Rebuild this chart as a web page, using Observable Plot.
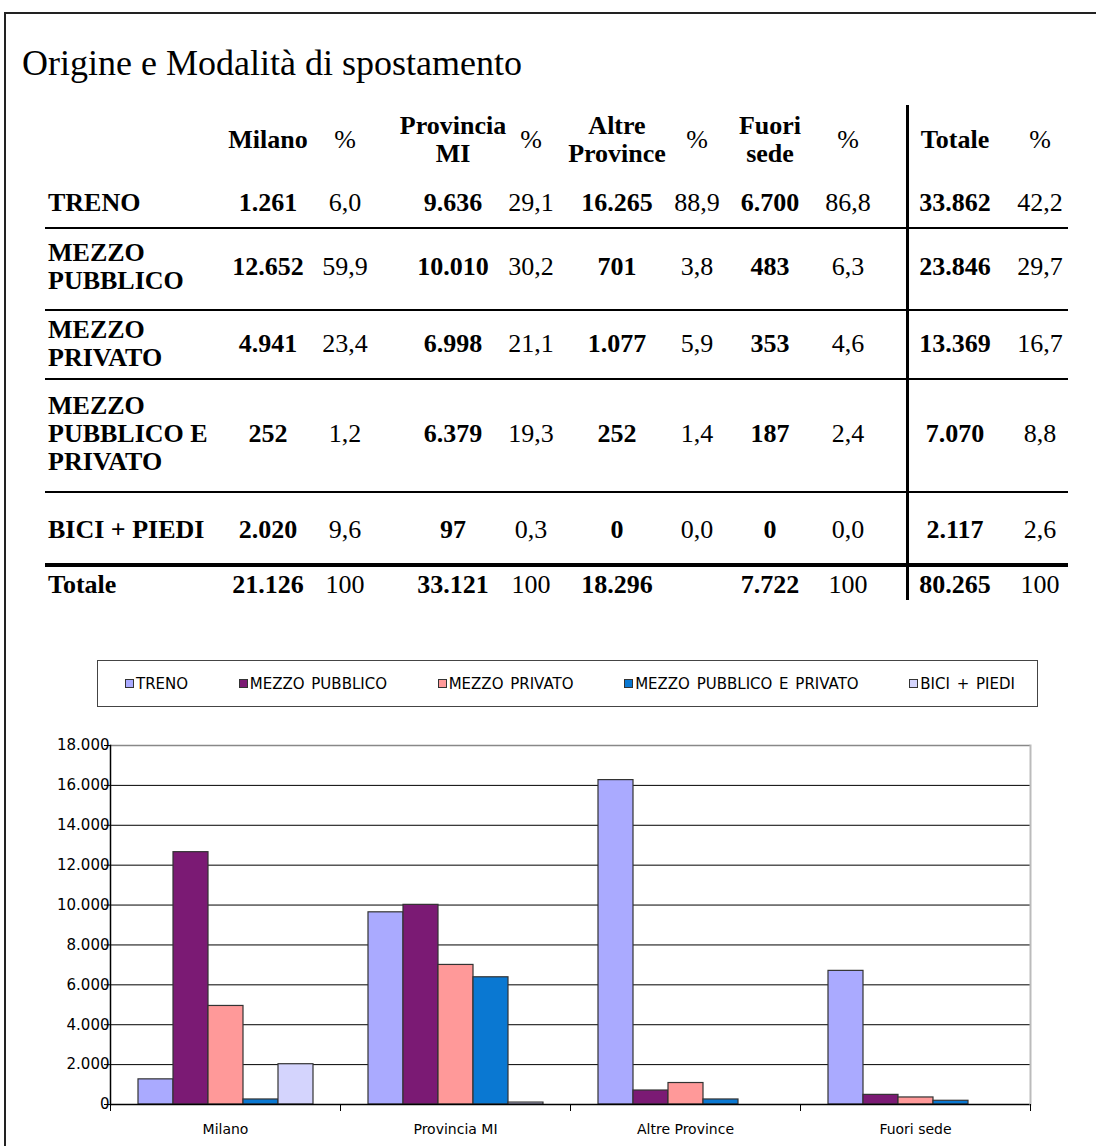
<!DOCTYPE html>
<html>
<head>
<meta charset="utf-8">
<script src="https://cdn.jsdelivr.net/npm/d3@7"></script>
<script src="https://cdn.jsdelivr.net/npm/@observablehq/plot@0.6"></script>
<style>
  html, body { margin: 0; padding: 0; background: #fff; }
  body { width: 1096px; height: 1146px; position: relative; overflow: hidden; }
  #frame { position: absolute; left: 4px; top: 12px; width: 1200px; height: 1200px; border: 2px solid #222; box-sizing: border-box; }
  #title { position: absolute; left: 22px; top: 45px; font: 36px/36px "Liberation Serif", "Times New Roman", serif; color: #000; white-space: nowrap; }
  .cell { position: absolute; transform: translate(-50%, -50%); font-family: "Liberation Serif", "Times New Roman", serif; font-size: 26px; line-height: 28px; text-align: center; white-space: nowrap; color: #000; }
  .cell.b { font-weight: bold; }
  .cell.lab { transform: translate(0, -50%); text-align: left; font-weight: bold; }
  .hline { position: absolute; background: #000; }
  #legend { position: absolute; left: 97px; top: 660px; width: 941px; height: 47px; box-sizing: border-box; border: 1px solid #444; display: flex; justify-content: space-between; align-items: center; padding: 0 22px 0 27px; font: 15px "DejaVu Sans", sans-serif; word-spacing: 2px; color: #000; }
  .item { display: flex; align-items: center; white-space: nowrap; }
  .sw { width: 7px; height: 7px; border: 1px solid #333; margin-right: 2px; }
  #chart { position: absolute; left: 0; top: 720px; }
</style>
</head>
<body>
<div id="frame"></div>
<div id="title">Origine e Modalità di spostamento</div>
<div id="table"></div>
<div id="legend"></div>
<div id="chart"></div>
<script>
// ---------- DATA ----------
const origins = ["Milano", "Provincia MI", "Altre Province", "Fuori sede"];
const originHeaders = [["Milano"], ["Provincia", "MI"], ["Altre", "Province"], ["Fuori", "sede"]];
const modes = ["TRENO", "MEZZO PUBBLICO", "MEZZO PRIVATO", "MEZZO PUBBLICO E PRIVATO", "BICI + PIEDI"];
const modeRowLabels = [["TRENO"], ["MEZZO", "PUBBLICO"], ["MEZZO", "PRIVATO"], ["MEZZO", "PUBBLICO E", "PRIVATO"], ["BICI + PIEDI"]];

const treno = [1261, 9636, 16265, 6700];
const mezzoPubblico = [12652, 10010, 701, 483];
const mezzoPrivato = [4941, 6998, 1077, 353];
const mezzoPubblicoPrivato = [252, 6379, 252, 187];
const biciPiedi = [2020, 97, 0, 0];

const pctTreno = ["6,0", "29,1", "88,9", "86,8"];
const pctMezzoPubblico = ["59,9", "30,2", "3,8", "6,3"];
const pctMezzoPrivato = ["23,4", "21,1", "5,9", "4,6"];
const pctMezzoPubblicoPrivato = ["1,2", "19,3", "1,4", "2,4"];
const pctBiciPiedi = ["9,6", "0,3", "0,0", "0,0"];

const rowTotals = [33862, 23846, 13369, 7070, 2117];
const rowTotalPct = ["42,2", "29,7", "16,7", "8,8", "2,6"];
const colTotals = [21126, 33121, 18296, 7722];
const colTotalPct = ["100", "100", "", "100"];
const grandTotal = 80265;
const grandTotalPct = "100";

const yTicks = [0, 2000, 4000, 6000, 8000, 10000, 12000, 14000, 16000, 18000];
const colors = ["#aaaaff", "#7b1a74", "#ff9999", "#0a78d2", "#d4d4fd"];

// ---------- helpers ----------
const series = [treno, mezzoPubblico, mezzoPrivato, mezzoPubblicoPrivato, biciPiedi];
const pcts = [pctTreno, pctMezzoPubblico, pctMezzoPrivato, pctMezzoPubblicoPrivato, pctBiciPiedi];
const it = d3.formatLocale({decimal: ",", thousands: ".", grouping: [3], currency: ["", "€"]});
const fmt = it.format(",d");

// ---------- TABLE (layout) ----------
const colX = {label: 48, vals: [268, 453, 617, 770], pct: [345, 531, 697, 848], tot: 955, totPct: 1040};
const rowY = {head: 140, rows: [203, 267, 344, 434, 530], total: 585};
const table = document.getElementById("table");
function cell(x, y, lines, cls) {
  const d = document.createElement("div");
  d.className = "cell " + cls;
  d.style.left = x + "px"; d.style.top = y + "px";
  d.innerHTML = lines.join("<br>");
  table.appendChild(d);
}
function hline(x, y, w, h) {
  const d = document.createElement("div");
  d.className = "hline";
  d.style.left = x + "px"; d.style.top = y + "px"; d.style.width = w + "px"; d.style.height = h + "px";
  table.appendChild(d);
}
originHeaders.forEach((h, i) => { cell(colX.vals[i], rowY.head, h, "b"); cell(colX.pct[i], rowY.head, ["%"], ""); });
cell(colX.tot, rowY.head, ["Totale"], "b"); cell(colX.totPct, rowY.head, ["%"], "");
modeRowLabels.forEach((lab, r) => {
  cell(colX.label, rowY.rows[r], lab, "lab");
  series[r].forEach((v, i) => {
    cell(colX.vals[i], rowY.rows[r], [fmt(v)], "b");
    cell(colX.pct[i], rowY.rows[r], [pcts[r][i]], "");
  });
  cell(colX.tot, rowY.rows[r], [fmt(rowTotals[r])], "b");
  cell(colX.totPct, rowY.rows[r], [rowTotalPct[r]], "");
});
cell(colX.label, rowY.total, ["Totale"], "lab");
colTotals.forEach((v, i) => { cell(colX.vals[i], rowY.total, [fmt(v)], "b"); cell(colX.pct[i], rowY.total, [colTotalPct[i]], ""); });
cell(colX.tot, rowY.total, [fmt(grandTotal)], "b"); cell(colX.totPct, rowY.total, [grandTotalPct], "");
[227, 309, 378, 491].forEach(y => hline(45, y, 1023, 2));
hline(45, 563, 1023, 4);
hline(906, 105, 3, 495);

// ---------- LEGEND ----------
const legend = document.getElementById("legend");
modes.forEach((m, i) => {
  const item = document.createElement("div");
  item.className = "item";
  const sw = document.createElement("div");
  sw.className = "sw"; sw.style.background = colors[i];
  const t = document.createElement("span"); t.textContent = m;
  item.appendChild(sw); item.appendChild(t);
  legend.appendChild(item);
});

// ---------- CHART ----------
const data = origins.flatMap((o, i) => modes.map((m, j) => ({origin: o, mode: m, value: series[j][i]})));
const plotH = 426, mTop = 25, mBottom = 42;
const chart = Plot.plot({
  width: 1096, height: plotH,
  marginLeft: 110, marginRight: 66, marginTop: mTop, marginBottom: mBottom,
  style: {fontFamily: "DejaVu Sans, sans-serif", fontSize: "14px", color: "#000", background: "transparent", overflow: "visible"},
  fx: {domain: origins, padding: 0, label: null},
  x: {domain: modes, paddingInner: 0, paddingOuter: 0.77, axis: null},
  y: {domain: [0, 18000], label: null, axis: null},
  color: {domain: modes, range: colors},
  marks: [
    Plot.ruleY(yTicks.filter(d => d > 0 && d < 18000), {stroke: "#000", strokeWidth: 1}),
    Plot.ruleY([18000], {stroke: "#888", strokeWidth: 1.5}),
    Plot.barY(data.filter(d => d.value > 0), {fx: "origin", x: "mode", y: "value", fill: "mode", stroke: "#333", strokeWidth: 1.2}),
    Plot.ruleY([0], {stroke: "#000", strokeWidth: 1.5}),
    Plot.frame({anchor: "left", facetAnchor: "left", stroke: "#000", strokeWidth: 1.5}),
    Plot.frame({anchor: "right", facetAnchor: "right", stroke: "#bbb", strokeWidth: 2}),
    Plot.frame({anchor: "left", insetTop: plotH - mTop - mBottom, insetBottom: -6, stroke: "#000"}),
    Plot.frame({anchor: "right", facetAnchor: "right", insetTop: plotH - mTop - mBottom, insetBottom: -6, stroke: "#000"}),
    Plot.axisY({ticks: yTicks, tickFormat: d => fmt(d), tickSize: 6, tickPadding: -5, fontSize: 15, stroke: "#000"}),
    Plot.axisFx({anchor: "bottom", tickSize: 0, tickPadding: 20, fontSize: 14, label: null})
  ]
});
document.getElementById("chart").appendChild(chart);
</script>
</body>
</html>
